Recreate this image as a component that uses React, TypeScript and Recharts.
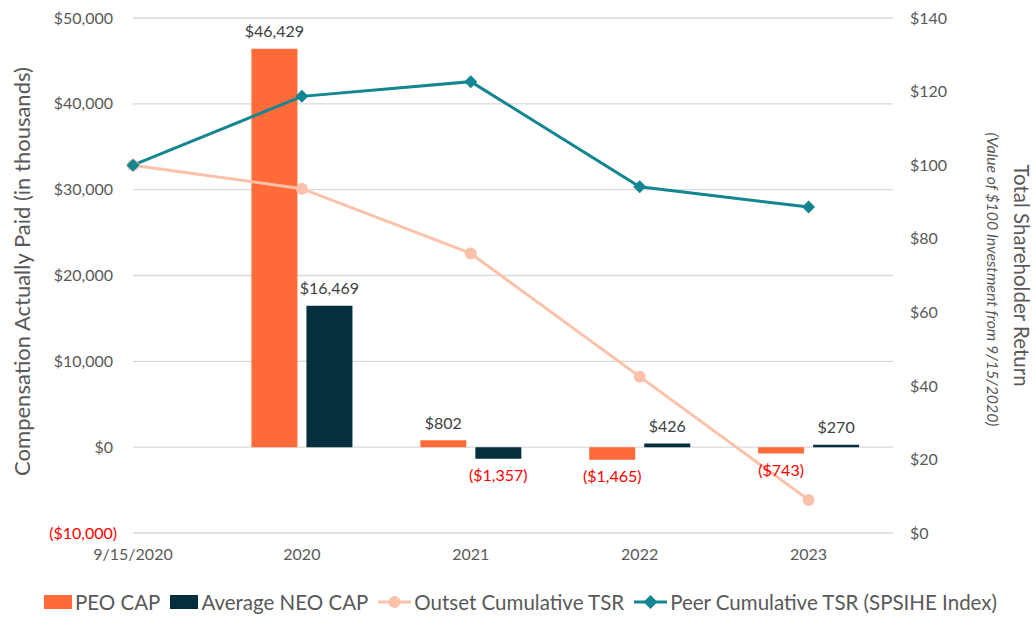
import React from 'react';
import { ComposedChart, Bar, Line, XAxis, YAxis, CartesianGrid, Legend, LabelList } from 'recharts';

// values
const CATEGORIES = ['9/15/2020', '2020', '2021', '2022', '2023'];
const PEO_CAP = [null, 46429, 802, -1465, -743];
const AVG_NEO_CAP = [null, 16469, -1357, 426, 270];
const OUTSET_TSR = [100, 93.6, 76.0, 42.5, 9.0];
const PEER_TSR = [100, 118.7, 122.7, 94.1, 88.6];
const CAP_TICKS = [-10000, 0, 10000, 20000, 30000, 40000, 50000];
const TSR_TICKS = [0, 20, 40, 60, 80, 100, 120, 140];
const X_TICKS = [0, 1, 2, 3, 4];

const SERIES = [
    { key: 'peo', name: 'PEO CAP', color: '#FF6B39', icon: 'rect' },
    { key: 'neo', name: 'Average NEO CAP', color: '#03303C', icon: 'rect' },
    { key: 'outset', name: 'Outset Cumulative TSR', color: '#FBC2A9', icon: 'circle' },
    { key: 'peer', name: 'Peer Cumulative TSR (SPSIHE Index)', color: '#138691', icon: 'diamond' },
];

const GRID = '#D9D9D9';
const TEXT = '#595959';
const LABEL = '#404040';
const RED = '#FF0000';
const FONT = 'Lato, "Open Sans", sans-serif';

const data = CATEGORIES.map((name, i) => ({
    pos: i,
    name,
    peo: PEO_CAP[i],
    neo: AVG_NEO_CAP[i],
    outset: OUTSET_TSR[i],
    peer: PEER_TSR[i],
}));

const fmtMoney = (v: number) =>
    v < 0 ? `($${Math.abs(v).toLocaleString('en-US')})` : `$${v.toLocaleString('en-US')}`;

const CapTick = ({ x, y, payload }: any) => {
    const v = payload.value;
    return (
        <text x={x + (v < 0 ? 4 : 0)} y={y} dy="0.35em" textAnchor="end" fontSize={16} fill={v < 0 ? RED : TEXT}>
            {fmtMoney(v)}
        </text>
    );
};

const BarValueLabel = (props: any) => {
    const { x, y, width, height, value } = props;
    if (value == null) return null;
    const top = Math.min(y, y + height);
    const bottom = Math.max(y, y + height);
    const neg = value < 0;
    return (
        <text x={x + width / 2} y={neg ? bottom + 17 : top - 17} dy="0.35em" textAnchor="middle" fontSize={16} fill={neg ? RED : LABEL}>
            {fmtMoney(value)}
        </text>
    );
};

const Diamond = (props: any) => {
    const { cx, cy, fill } = props;
    if (cx == null || cy == null) return <g />;
    const r = 6.5;
    return <path d={`M${cx},${cy - r}L${cx + r},${cy}L${cx},${cy + r}L${cx - r},${cy}Z`} fill={fill} />;
};

const LeftTitle = (props: any) => {
    const { viewBox } = props;
    const x = viewBox.x + 21;
    const cy = viewBox.y + viewBox.height / 2 - 4;
    return (
        <text x={x} y={cy} transform={`rotate(-90, ${x}, ${cy})`} textAnchor="middle" dominantBaseline="central" fontSize={22} fill={TEXT}>
            Compensation Actually Paid (in thousands)
        </text>
    );
};

const RightTitle = (props: any) => {
    const { viewBox } = props;
    const x1 = viewBox.x + 129;
    const x2 = viewBox.x + 100;
    const cy = viewBox.y + viewBox.height / 2;
    return (
        <g>
            <text x={x1} y={cy} transform={`rotate(90, ${x1}, ${cy})`} textAnchor="middle" dominantBaseline="central" fontSize={20.5} fill={TEXT}>
                Total Shareholder Return
            </text>
            <text x={x2} y={cy + 4} transform={`rotate(90, ${x2}, ${cy + 4})`} textAnchor="middle" dominantBaseline="central" fontSize={15.8} fontStyle="italic" fill={TEXT}>
                (Value of $100 Investment from 9/15/2020)
            </text>
        </g>
    );
};

const LegendIcon = ({ icon, color }: { icon: string; color: string }) => {
    if (icon === 'rect') {
        return <svg width={28} height={14}><rect width={28} height={14} fill={color} /></svg>;
    }
    return (
        <svg width={33} height={16}>
            <line x1={0} y1={8} x2={33} y2={8} stroke={color} strokeWidth={3} />
            {icon === 'circle'
                ? <circle cx={16.5} cy={8} r={6} fill={color} />
                : <path d="M16.5,1L23.5,8L16.5,15L9.5,8Z" fill={color} />}
        </svg>
    );
};

const LegendContent = () => (
    <div style={{ display: 'flex', alignItems: 'center', height: 34, paddingLeft: 44, fontSize: 20.5, color: TEXT, whiteSpace: 'nowrap' }}>
        {SERIES.map((s) => (
            <div key={s.key} style={{ display: 'flex', alignItems: 'center', marginRight: 10 }}>
                <LegendIcon icon={s.icon} color={s.color} />
                <span style={{ marginLeft: 3 }}>{s.name}</span>
            </div>
        ))}
    </div>
);

export default function App() {
    return (
        <div style={{ position: 'absolute', left: 0, top: 0, width: 1036, height: 619, background: '#fff', fontFamily: FONT }}>
            <ComposedChart width={1036} height={619} data={data} margin={{ top: 18, right: 0, bottom: 0, left: 0 }} barGap={9}>
                <CartesianGrid yAxisId="cap" vertical={false} stroke={GRID} strokeWidth={1.3} />
                <XAxis
                    dataKey="pos"
                    type="number"
                    domain={[0, 4.5]}
                    ticks={X_TICKS}
                    interval={0}
                    tickFormatter={(i: number) => CATEGORIES[i] ?? ''}
                    axisLine={false}
                    tickLine={false}
                    tickMargin={10}
                    height={52}
                    tick={{ fontSize: 16, fill: TEXT }}
                />
                <YAxis
                    yAxisId="cap"
                    width={133}
                    domain={[-10000, 50000]}
                    ticks={CAP_TICKS}
                    axisLine={false}
                    tickLine={false}
                    tickMargin={14}
                    tick={<CapTick />}
                    label={LeftTitle}
                />
                <YAxis
                    yAxisId="tsr"
                    orientation="right"
                    width={143}
                    domain={[0, 140]}
                    ticks={TSR_TICKS}
                    axisLine={false}
                    tickLine={false}
                    tickMargin={11}
                    tickFormatter={(v: number) => `$${v}`}
                    tick={{ fontSize: 16, fill: TEXT }}
                    label={RightTitle}
                />
                <Legend verticalAlign="bottom" content={<LegendContent />} />
                <Bar yAxisId="cap" dataKey="peo" name="PEO CAP" fill={SERIES[0].color} barSize={46} isAnimationActive={false}>
                    <LabelList dataKey="peo" content={BarValueLabel} />
                </Bar>
                <Bar yAxisId="cap" dataKey="neo" name="Average NEO CAP" fill={SERIES[1].color} barSize={46} isAnimationActive={false}>
                    <LabelList dataKey="neo" content={BarValueLabel} />
                </Bar>
                <Line
                    yAxisId="tsr"
                    type="linear"
                    dataKey="outset"
                    name="Outset Cumulative TSR"
                    stroke={SERIES[2].color}
                    strokeWidth={3}
                    dot={{ r: 6, fill: SERIES[2].color, stroke: 'none' }}
                    activeDot={false}
                    isAnimationActive={false}
                />
                <Line
                    yAxisId="tsr"
                    type="linear"
                    dataKey="peer"
                    name="Peer Cumulative TSR (SPSIHE Index)"
                    stroke={SERIES[3].color}
                    strokeWidth={3}
                    dot={(p: any) => <Diamond key={`d-${p.index}`} {...p} fill={SERIES[3].color} />}
                    activeDot={false}
                    isAnimationActive={false}
                />
            </ComposedChart>
        </div>
    );
}
